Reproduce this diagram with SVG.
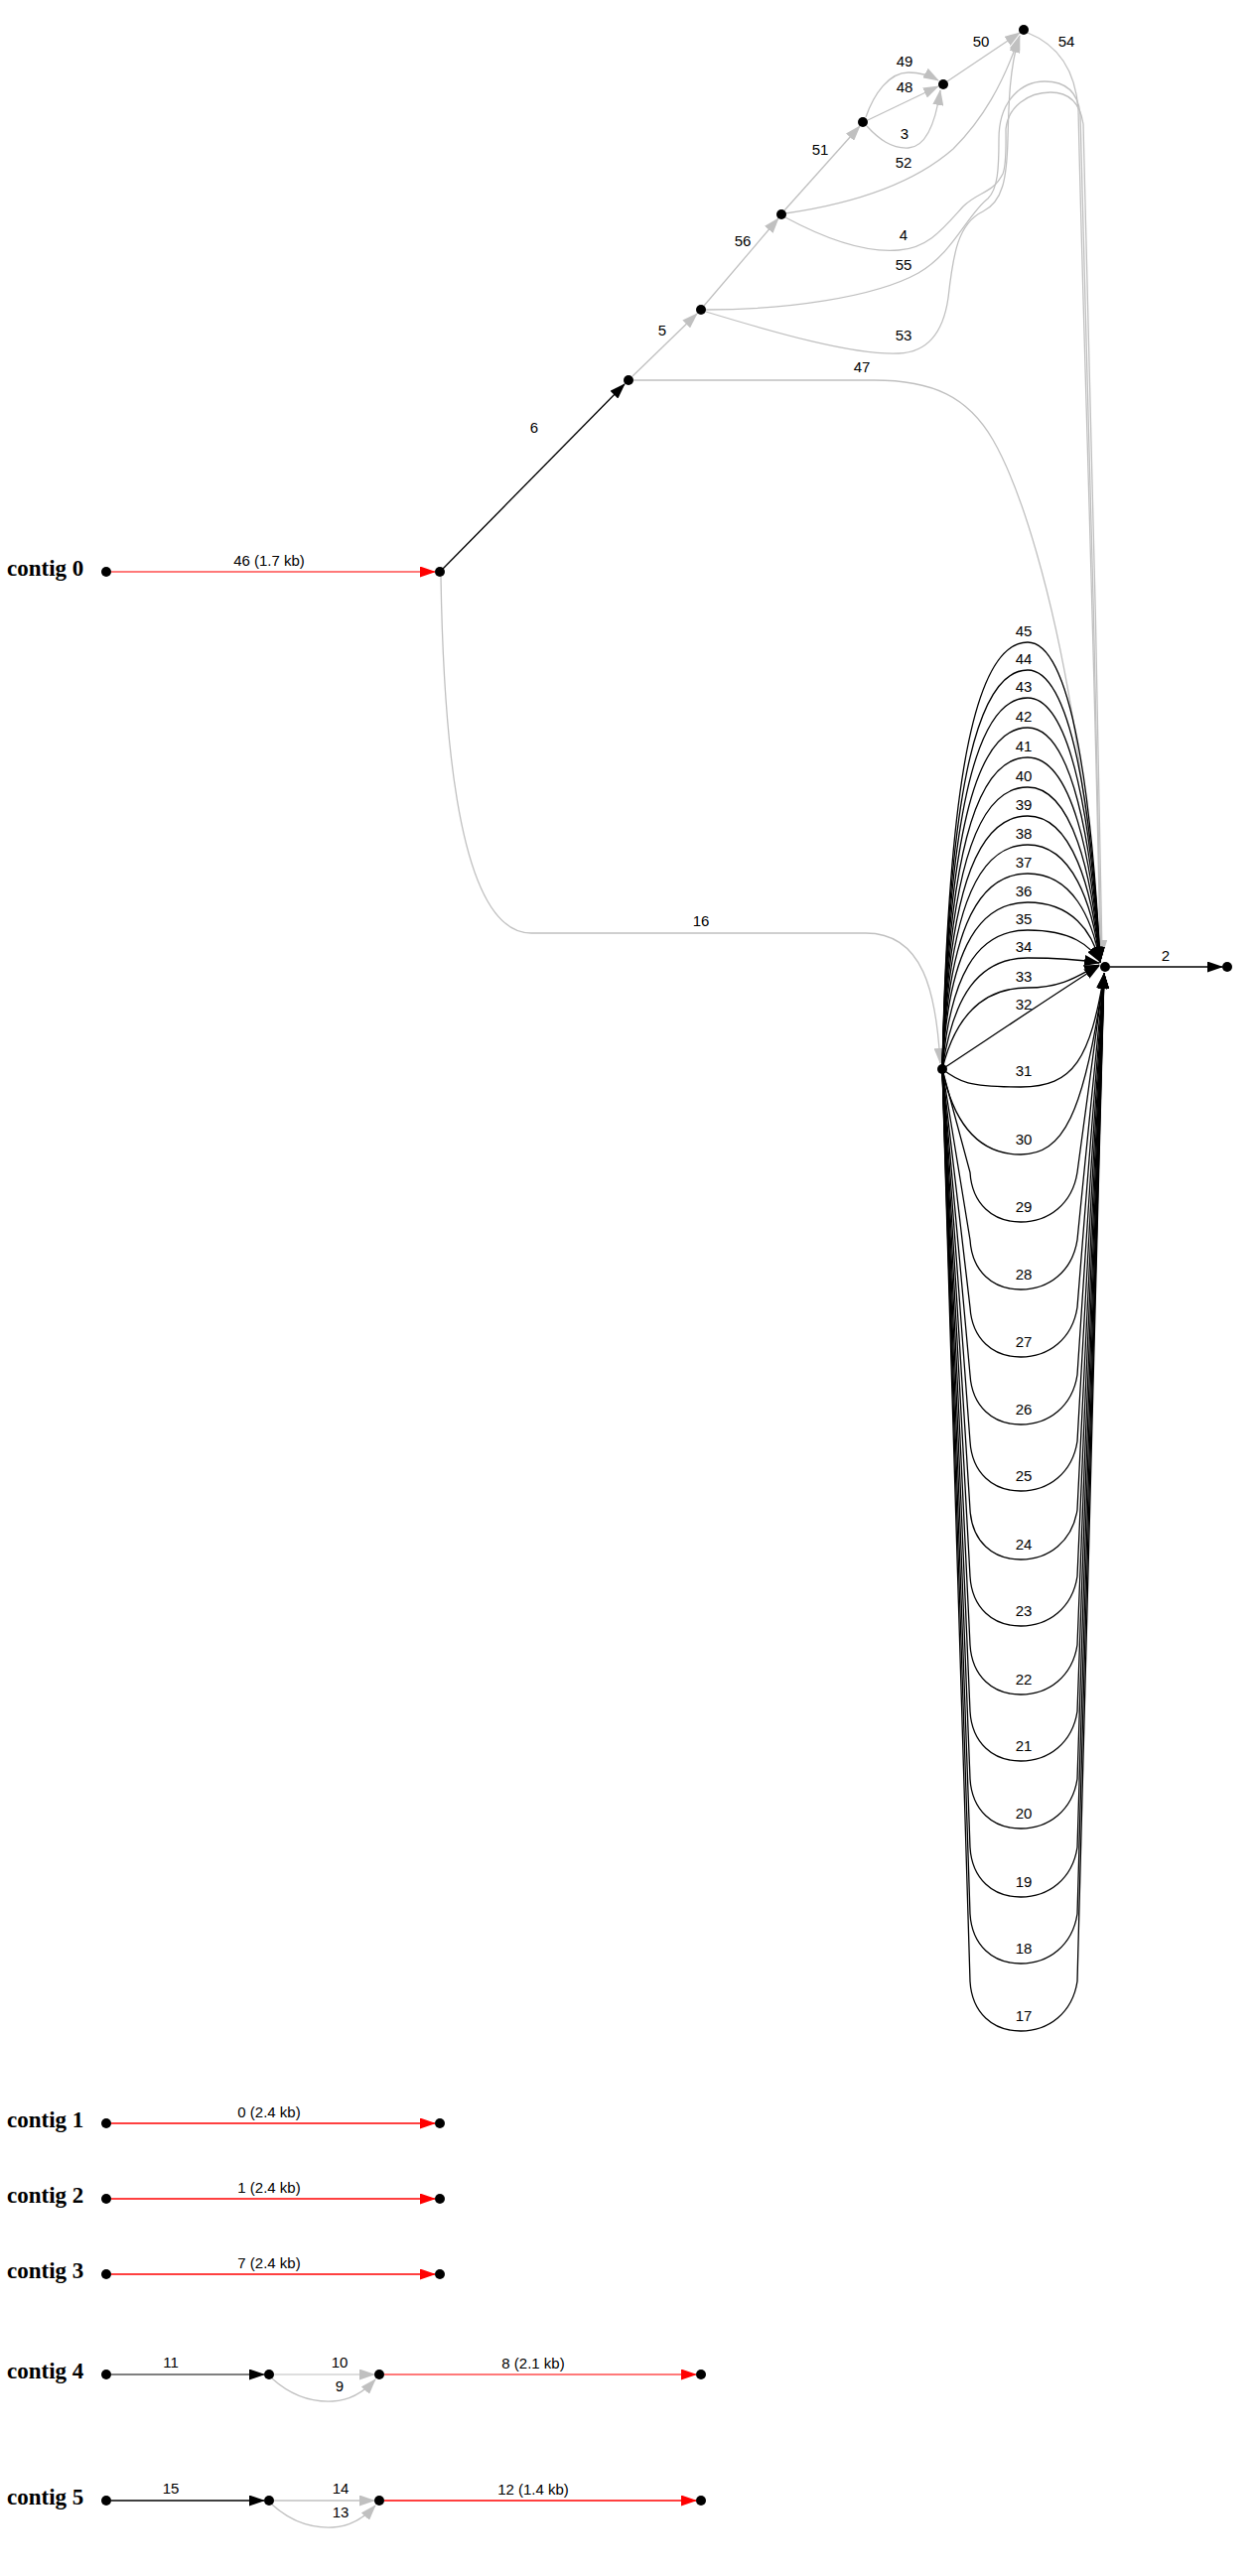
<svg xmlns="http://www.w3.org/2000/svg" width="1268" height="2595" viewBox="0 0 1268 2595">
<style>
.n{fill:#000}
.e{fill:none;stroke-width:1.3}
.k{stroke:#000}
.g{stroke:#c0c0c0}
.r{stroke:#ff0000}
.r2{stroke:#ff4d4d}
.d{stroke:#555}
.lg{stroke:#d3d3d3}
.lbl{font-family:"Liberation Sans",Arial,sans-serif;font-size:15px;text-anchor:middle;fill:#000}
.ctg{font-family:"Liberation Serif","Times New Roman",serif;font-size:23px;font-weight:bold;fill:#000}
</style>
<defs>
<marker id="ak" viewBox="0 0 16 11" markerWidth="16" markerHeight="11" refX="15" refY="5.5" markerUnits="userSpaceOnUse" orient="auto"><path d="M0,0 L16,5.5 L0,11 z" fill="#000"/></marker>
<marker id="ag" viewBox="0 0 16 11" markerWidth="16" markerHeight="11" refX="15" refY="5.5" markerUnits="userSpaceOnUse" orient="auto"><path d="M0,0 L16,5.5 L0,11 z" fill="#c0c0c0"/></marker>
<marker id="ar" viewBox="0 0 16 11" markerWidth="16" markerHeight="11" refX="15" refY="5.5" markerUnits="userSpaceOnUse" orient="auto"><path d="M0,0 L16,5.5 L0,11 z" fill="#ff0000"/></marker>
</defs>
<rect width="1268" height="2595" fill="#fff"/>

<g id="connectors">
<!-- contig 0 -->
<path class="e r2" d="M112,576 L438,576" marker-end="url(#ar)"/>
<path class="e k" d="M446,573 L629,387" marker-end="url(#ak)"/>
<path class="e g" d="M637,379 L702,316" marker-end="url(#ag)"/>
<path class="e g" d="M709,308 L784,220" marker-end="url(#ag)"/>
<path class="e g" d="M790,212 L866,127" marker-end="url(#ag)"/>
<path class="e g" d="M874,121 L945,87" marker-end="url(#ag)"/>
<path class="e g" d="M872,118 C880,95 895,73 915,73 C928,73 938,77 945,81" marker-end="url(#ag)"/>
<path class="e g" d="M873,127 C885,140 898,150 915,149 C932,148 942,125 947,91" marker-end="url(#ag)"/>
<path class="e g" d="M954,82 L1027,33" marker-end="url(#ag)"/>
<path class="e g" d="M791,215 C860,205 920,185 960,150 C990,120 1010,85 1027,36" marker-end="url(#ag)"/>
<path class="e g" d="M711,314 C780,335 860,358 905,356 C935,355 950,335 955,300 C960,255 965,225 990,213 C1010,203 1014,180 1015,140 C1016,100 1017,70 1026,38" marker-end="url(#ag)"/>
<path class="e g" d="M711,312 C790,312 880,300 925,275 C960,255 975,215 995,200 C1005,190 1006,170 1006,140 C1006,100 1030,82 1052,82 C1075,82 1086,95 1088,115 C1092,300 1105,700 1109,962" marker-end="url(#ag)"/>
<path class="e g" d="M791,219 C830,240 870,255 905,252 C935,250 950,230 970,208 C985,193 1000,195 1010,175 C1014,165 1013,140 1013,130 C1015,108 1035,93 1058,93 C1078,93 1088,105 1091,125 C1096,300 1106,700 1110,962" marker-end="url(#ag)"/>
<path class="e g" d="M1035,33 C1065,45 1083,70 1086,110 C1090,300 1104,700 1108,962" marker-end="url(#ag)"/>
<path class="e g" d="M638,383 L880,383 C940,383 975,400 1000,443 C1030,495 1060,600 1080,720 C1095,820 1104,900 1108,962" marker-end="url(#ag)"/>
<path class="e g" d="M444,581 C446,700 455,940 535,940 L872,940 C930,940 943,1000 947,1071" marker-end="url(#ag)"/>
<path class="e k" d="M1118,974 L1231,974" marker-end="url(#ak)"/>
<!-- upper parallel edges -->
<path class="e k" d="M949,1077 C955,797 980,647 1035,647 C1080,647 1100,808 1108,969" marker-end="url(#ak)"/>
<path class="e k" d="M949,1077 C955,816 980,675 1035,675 C1080,675 1100,822 1108,969" marker-end="url(#ak)"/>
<path class="e k" d="M949,1077 C955,834 980,703 1035,703 C1080,703 1100,836 1108,969" marker-end="url(#ak)"/>
<path class="e k" d="M949,1077 C955,853 980,733 1035,733 C1080,733 1100,851 1108,969" marker-end="url(#ak)"/>
<path class="e k" d="M949,1077 C955,873 980,763 1035,763 C1080,763 1100,866 1108,969" marker-end="url(#ak)"/>
<path class="e k" d="M949,1077 C955,892 980,793 1035,793 C1080,793 1100,881 1108,969" marker-end="url(#ak)"/>
<path class="e k" d="M949,1077 C955,911 980,822 1035,822 C1080,822 1100,896 1108,969" marker-end="url(#ak)"/>
<path class="e k" d="M949,1077 C955,930 980,851 1035,851 C1080,851 1100,910 1108,969" marker-end="url(#ak)"/>
<path class="e k" d="M949,1077 C955,949 980,880 1035,880 C1080,880 1100,925 1108,969" marker-end="url(#ak)"/>
<path class="e k" d="M949,1077 C955,968 980,909 1035,909 C1080,909 1100,939 1108,969" marker-end="url(#ak)"/>
<path class="e k" d="M949,1077 C957,986 982,937 1035,937 C1080,937 1098,953 1108,969" marker-end="url(#ak)"/>
<path class="e k" d="M949,1077 C960,1004 985,965 1035,965 C1075,965 1095,968 1107,970" marker-end="url(#ak)"/>
<path class="e k" d="M949,1077 C962,1024 990,995 1035,995 C1075,995 1092,978 1107,972" marker-end="url(#ak)"/>
<path class="e k" d="M949,1077 C990,1050 1060,1003 1107,973" marker-end="url(#ak)"/>
<!-- lower parallel edges -->
<path class="e k" d="M949,1077 C966,1090 975,1095 1028,1095 C1082,1095 1098,1066 1112,981" marker-end="url(#ak)"/>
<path class="e k" d="M949,1077 C960,1130 985,1163 1028,1163 C1070,1163 1092,1125 1112,981" marker-end="url(#ak)"/>
<path class="e k" d="M949,1077 L977,1181 C979,1213 1000,1231 1028,1231 C1056,1231 1080,1213 1085,1181 L1112,981" marker-end="url(#ak)"/>
<path class="e k" d="M949,1077 L977,1249 C979,1281 1000,1299 1028,1299 C1056,1299 1080,1281 1085,1249 L1112,981" marker-end="url(#ak)"/>
<path class="e k" d="M949,1077 L977,1317 C979,1349 1000,1367 1028,1367 C1056,1367 1080,1349 1085,1317 L1112,981" marker-end="url(#ak)"/>
<path class="e k" d="M949,1077 L977,1385 C979,1417 1000,1435 1028,1435 C1056,1435 1080,1417 1085,1385 L1112,981" marker-end="url(#ak)"/>
<path class="e k" d="M949,1077 L977,1452 C979,1484 1000,1502 1028,1502 C1056,1502 1080,1484 1085,1452 L1112,981" marker-end="url(#ak)"/>
<path class="e k" d="M949,1077 L977,1521 C979,1553 1000,1571 1028,1571 C1056,1571 1080,1553 1085,1521 L1112,981" marker-end="url(#ak)"/>
<path class="e k" d="M949,1077 L977,1588 C979,1620 1000,1638 1028,1638 C1056,1638 1080,1620 1085,1588 L1112,981" marker-end="url(#ak)"/>
<path class="e k" d="M949,1077 L977,1657 C979,1689 1000,1707 1028,1707 C1056,1707 1080,1689 1085,1657 L1112,981" marker-end="url(#ak)"/>
<path class="e k" d="M949,1077 L977,1724 C979,1756 1000,1774 1028,1774 C1056,1774 1080,1756 1085,1724 L1112,981" marker-end="url(#ak)"/>
<path class="e k" d="M949,1077 L977,1792 C979,1824 1000,1842 1028,1842 C1056,1842 1080,1824 1085,1792 L1112,981" marker-end="url(#ak)"/>
<path class="e k" d="M949,1077 L977,1861 C979,1893 1000,1911 1028,1911 C1056,1911 1080,1893 1085,1861 L1112,981" marker-end="url(#ak)"/>
<path class="e k" d="M949,1077 L977,1928 C979,1960 1000,1978 1028,1978 C1056,1978 1080,1960 1085,1928 L1112,981" marker-end="url(#ak)"/>
<path class="e k" d="M949,1077 L977,1996 C979,2028 1000,2046 1028,2046 C1056,2046 1080,2028 1085,1996 L1112,981" marker-end="url(#ak)"/>
<!-- contigs 1-5 -->
<path class="e r" d="M112,2139 L438,2139" marker-end="url(#ar)"/>
<path class="e r" d="M112,2215 L438,2215" marker-end="url(#ar)"/>
<path class="e r" d="M112,2291 L438,2291" marker-end="url(#ar)"/>
<path class="e d" d="M112,2392 L266,2392" marker-end="url(#ak)"/>
<path class="e lg" d="M276,2392 L377,2392" marker-end="url(#ag)"/>
<path class="e g" d="M274,2396 C295,2415 315,2420 335,2419 C355,2418 368,2408 378,2397" marker-end="url(#ag)"/>
<path class="e r2" d="M387,2392 L701,2392" marker-end="url(#ar)"/>
<path class="e k" d="M112,2519 L266,2519" marker-end="url(#ak)"/>
<path class="e g" d="M276,2519 L377,2519" marker-end="url(#ag)"/>
<path class="e g" d="M274,2523 C295,2542 315,2547 335,2546 C355,2545 368,2535 378,2524" marker-end="url(#ag)"/>
<path class="e r" d="M387,2519 L701,2519" marker-end="url(#ar)"/>
</g>

<g id="edge-labels">
<text class="lbl" x="271" y="570">46 (1.7 kb)</text>
<text class="lbl" x="538" y="436">6</text>
<text class="lbl" x="667" y="338">5</text>
<text class="lbl" x="748" y="248">56</text>
<text class="lbl" x="826" y="156">51</text>
<text class="lbl" x="911" y="67">49</text>
<text class="lbl" x="911" y="93">48</text>
<text class="lbl" x="911" y="140">3</text>
<text class="lbl" x="988" y="47">50</text>
<text class="lbl" x="1074" y="47">54</text>
<text class="lbl" x="910" y="169">52</text>
<text class="lbl" x="910" y="242">4</text>
<text class="lbl" x="910" y="272">55</text>
<text class="lbl" x="910" y="343">53</text>
<text class="lbl" x="868" y="375">47</text>
<text class="lbl" x="706" y="933">16</text>
<text class="lbl" x="1174" y="968">2</text>
<text class="lbl" x="1031" y="641">45</text>
<text class="lbl" x="1031" y="669">44</text>
<text class="lbl" x="1031" y="697">43</text>
<text class="lbl" x="1031" y="727">42</text>
<text class="lbl" x="1031" y="757">41</text>
<text class="lbl" x="1031" y="787">40</text>
<text class="lbl" x="1031" y="816">39</text>
<text class="lbl" x="1031" y="845">38</text>
<text class="lbl" x="1031" y="874">37</text>
<text class="lbl" x="1031" y="903">36</text>
<text class="lbl" x="1031" y="931">35</text>
<text class="lbl" x="1031" y="959">34</text>
<text class="lbl" x="1031" y="989">33</text>
<text class="lbl" x="1031" y="1017">32</text>
<text class="lbl" x="1031" y="1084">31</text>
<text class="lbl" x="1031" y="1153">30</text>
<text class="lbl" x="1031" y="1221">29</text>
<text class="lbl" x="1031" y="1289">28</text>
<text class="lbl" x="1031" y="1357">27</text>
<text class="lbl" x="1031" y="1425">26</text>
<text class="lbl" x="1031" y="1492">25</text>
<text class="lbl" x="1031" y="1561">24</text>
<text class="lbl" x="1031" y="1628">23</text>
<text class="lbl" x="1031" y="1697">22</text>
<text class="lbl" x="1031" y="1764">21</text>
<text class="lbl" x="1031" y="1832">20</text>
<text class="lbl" x="1031" y="1901">19</text>
<text class="lbl" x="1031" y="1968">18</text>
<text class="lbl" x="1031" y="2036">17</text>
<text class="lbl" x="271" y="2133">0 (2.4 kb)</text>
<text class="lbl" x="271" y="2209">1 (2.4 kb)</text>
<text class="lbl" x="271" y="2285">7 (2.4 kb)</text>
<text class="lbl" x="172" y="2385">11</text>
<text class="lbl" x="342" y="2385">10</text>
<text class="lbl" x="342" y="2409">9</text>
<text class="lbl" x="537" y="2386">8 (2.1 kb)</text>
<text class="lbl" x="172" y="2512">15</text>
<text class="lbl" x="343" y="2512">14</text>
<text class="lbl" x="343" y="2536">13</text>
<text class="lbl" x="537" y="2513">12 (1.4 kb)</text>
</g>

<g id="contig-labels">
<text class="ctg" x="7" y="580">contig 0</text>
<text class="ctg" x="7" y="2143">contig 1</text>
<text class="ctg" x="7" y="2219">contig 2</text>
<text class="ctg" x="7" y="2295">contig 3</text>
<text class="ctg" x="7" y="2396">contig 4</text>
<text class="ctg" x="7" y="2523">contig 5</text>
</g>

<g id="nodes">
<g id="n0s"><circle class="n" cx="107" cy="576" r="5"/></g>
<g id="n0e"><circle class="n" cx="443" cy="576" r="5"/></g>
<g id="nd"><circle class="n" cx="633" cy="383" r="5"/></g>
<g id="nc"><circle class="n" cx="706" cy="312" r="5"/></g>
<g id="nb"><circle class="n" cx="787" cy="216" r="5"/></g>
<g id="na"><circle class="n" cx="869" cy="123" r="5"/></g>
<g id="n48"><circle class="n" cx="950" cy="85" r="5"/></g>
<g id="ntop"><circle class="n" cx="1031" cy="30" r="5"/></g>
<g id="nlh"><circle class="n" cx="949" cy="1077" r="5"/></g>
<g id="nhub"><circle class="n" cx="1113" cy="974" r="5"/></g>
<g id="nend"><circle class="n" cx="1236" cy="974" r="5"/></g>
<g id="c1a"><circle class="n" cx="107" cy="2139" r="5"/></g>
<g id="c1b"><circle class="n" cx="443" cy="2139" r="5"/></g>
<g id="c2a"><circle class="n" cx="107" cy="2215" r="5"/></g>
<g id="c2b"><circle class="n" cx="443" cy="2215" r="5"/></g>
<g id="c3a"><circle class="n" cx="107" cy="2291" r="5"/></g>
<g id="c3b"><circle class="n" cx="443" cy="2291" r="5"/></g>
<g id="c4a"><circle class="n" cx="107" cy="2392" r="5"/></g>
<g id="c4b"><circle class="n" cx="271" cy="2392" r="5"/></g>
<g id="c4c"><circle class="n" cx="382" cy="2392" r="5"/></g>
<g id="c4d"><circle class="n" cx="706" cy="2392" r="5"/></g>
<g id="c5a"><circle class="n" cx="107" cy="2519" r="5"/></g>
<g id="c5b"><circle class="n" cx="271" cy="2519" r="5"/></g>
<g id="c5c"><circle class="n" cx="382" cy="2519" r="5"/></g>
<g id="c5d"><circle class="n" cx="706" cy="2519" r="5"/></g>
</g>
</svg>
